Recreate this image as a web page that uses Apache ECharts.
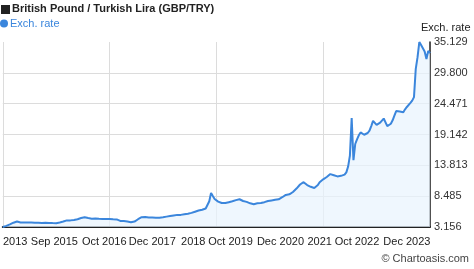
<!DOCTYPE html>
<html>
<head>
<meta charset="utf-8">
<script src="https://cdn.jsdelivr.net/npm/echarts@6/dist/echarts.min.js"></script>
<style>
html,body{margin:0;padding:0;background:#fff;}
#chart{width:474px;height:269px;}
</style>
</head>
<body>
<div id="chart"></div>
<script>
// Semi-monthly observations, Oct 2013 .. Oct 2023 (GBP/TRY)
const rates2013_2015 = [3.156,3.25,3.35,3.45,3.6,3.8,3.9,4.05,4.1,4.0,3.95,3.9,3.92,3.88,3.93,3.9,3.92,3.87,3.9,3.94,3.89,3.9,3.86,3.92,
  3.88,3.9,3.85,3.88,3.83,3.8,3.82,3.78,3.95,4.05,4.1,4.2,4.3,4.35,4.3,4.4,4.38,4.45,4.5,4.62,4.7,4.78,4.85,4.8];
const rates2015_2017 = [4.72,4.65,4.6,4.58,4.62,4.55,4.57,4.5,4.54,4.5,4.55,4.48,4.55,4.52,4.5,4.45,4.47,4.35,4.2,4.15,4.18,4.1,4.12,4.05,
  3.97,4.0,4.1,4.25,4.5,4.7,4.85,4.95,4.9,4.85,4.8,4.85,4.78,4.8,4.75,4.82,4.77,4.8,4.85,4.9,4.95,5.0,5.05,5.1];
const rates2017_2019 = [5.15,5.2,5.25,5.2,5.25,5.3,5.35,5.4,5.45,5.5,5.6,5.7,5.8,5.9,6.0,6.1,6.15,6.25,6.35,6.5,7.6,9.05,8.5,8.0,
  7.7,7.55,7.4,7.3,7.25,7.3,7.35,7.45,7.5,7.6,7.7,7.8,7.9,7.95,7.8,7.65,7.55,7.5,7.35,7.25,7.15,7.1,7.2,7.25];
const rates2019_2021 = [7.2,7.3,7.35,7.45,7.5,7.65,7.7,7.75,7.8,7.85,7.9,7.95,8.1,8.3,8.6,8.7,8.75,8.8,8.9,9.2,9.5,9.8,10.1,10.5,
  10.8,10.9,10.7,10.4,10.3,10.1,10.0,9.9,9.95,10.4,10.9,11.2,11.4,11.6,11.8,12.0,12.3,12.2,12.1,12.0,11.9,11.95,12.0,12.1];
const rates2021_2023 = [12.2,12.6,13.6,15.5,22.0,14.7,17.5,18.3,19.0,19.5,19.3,19.1,19.0,19.4,19.8,20.6,21.5,21.2,20.8,20.9,21.2,21.4,21.9,22.2,
  20.6,20.3,21.0,21.6,22.4,23.2,23.4,23.1,22.8,23.0,23.5,23.9,24.2,24.6,25.0,25.6,30.5,32.5,35.129,34.6,34.4,33.5,32.2,33.6,33.2];
const rates = [].concat(rates2013_2015, rates2015_2017, rates2017_2019, rates2019_2021, rates2021_2023);

// Category dates (1st and 16th of each month from Oct 2013)
const categories = [];
for (let i = 0; i < rates.length; i++) {
  const m = 9 + Math.floor(i / 2);
  const y = 2013 + Math.floor(m / 12);
  const mm = (m % 12) + 1;
  categories.push(y + '-' + (mm < 10 ? '0' : '') + mm + '-' + (i % 2 ? '16' : '01'));
}

const xTickIndex = [7, 29, 57, 84, 107, 128, 156, 178, 199, 227];
const xTickLabels = ['2013', 'Sep 2015', 'Oct 2016', 'Dec 2017', '2018', 'Oct 2019', 'Dec 2020', '2021', 'Oct 2022', 'Dec 2023'];
const yTickLabels = ['3.156', '8.485', '13.813', '19.142', '24.471', '29.800', '35.129'];
const yMin = 3.156, yMax = 35.129;

const labelMap = {};
xTickIndex.forEach((idx, k) => { labelMap[categories[idx]] = xTickLabels[k]; });

const FONT = 'Liberation Sans, Arial, sans-serif';
const chart = echarts.init(document.getElementById('chart'), null, {renderer: 'canvas'});
chart.setOption({
  animation: false,
  textStyle: {fontFamily: FONT},
  grid: {left: 0, right: 44, top: 42, bottom: 42},
  title: [
    {text: 'British Pound / Turkish Lira (GBP/TRY)', left: 12, top: 3, padding: 0,
     textStyle: {fontSize: 11, fontWeight: 'bold', color: '#222', fontFamily: FONT}},
    {text: '© Chartoasis.com', right: 5, top: 253, padding: 0,
     textStyle: {fontSize: 11, fontWeight: 'normal', color: '#444', fontFamily: FONT}}
  ],
  graphic: [{type: 'rect', shape: {x: 1, y: 5, width: 9, height: 9}, style: {fill: '#222'}}],
  legend: {
    left: 0, top: 18, padding: 0, itemWidth: 8, itemHeight: 8, icon: 'circle',
    textStyle: {color: '#3b86dc', fontSize: 11, fontFamily: FONT, padding: [0, 0, 0, -3]},
    data: ['Exch. rate']
  },
  xAxis: {
    type: 'category', data: categories, boundaryGap: false,
    axisLine: {lineStyle: {color: '#222', width: 2}},
    axisTick: {show: false},
    axisLabel: {
      interval: (index) => xTickIndex.indexOf(index) >= 0,
      formatter: (value) => labelMap[value] || '',
      fontSize: 11, color: '#222', margin: 9, fontFamily: FONT, hideOverlap: false
    },
    splitLine: {show: true, interval: 59, lineStyle: {color: '#dcdcdc', width: 1}}
  },
  yAxis: {
    type: 'value', position: 'right', min: yMin, max: yMax, interval: 5.32884,
    name: 'Exch. rate', nameLocation: 'end', nameGap: 9,
    nameTextStyle: {color: '#222', fontSize: 11, align: 'left', padding: [0, 0, 0, -9], fontFamily: FONT},
    axisLine: {show: true, lineStyle: {color: '#222', width: 1.5}},
    axisTick: {show: false},
    axisLabel: {formatter: (v, i) => yTickLabels[i], fontSize: 11, color: '#333', margin: 4, fontFamily: FONT},
    splitLine: {show: true, lineStyle: {color: ['#dcdcdc','#dcdcdc','#dcdcdc','#dcdcdc','#dcdcdc','#dcdcdc','rgba(0,0,0,0)'], width: 1}}
  },
  series: [{
    name: 'Exch. rate', type: 'line', data: rates, showSymbol: false, symbol: 'circle',
    lineStyle: {color: '#3b86dc', width: 2},
    itemStyle: {color: '#3b86dc'},
    areaStyle: {color: '#e8f3fd', origin: 'start'}
  }]
});
</script>
</body>
</html>
